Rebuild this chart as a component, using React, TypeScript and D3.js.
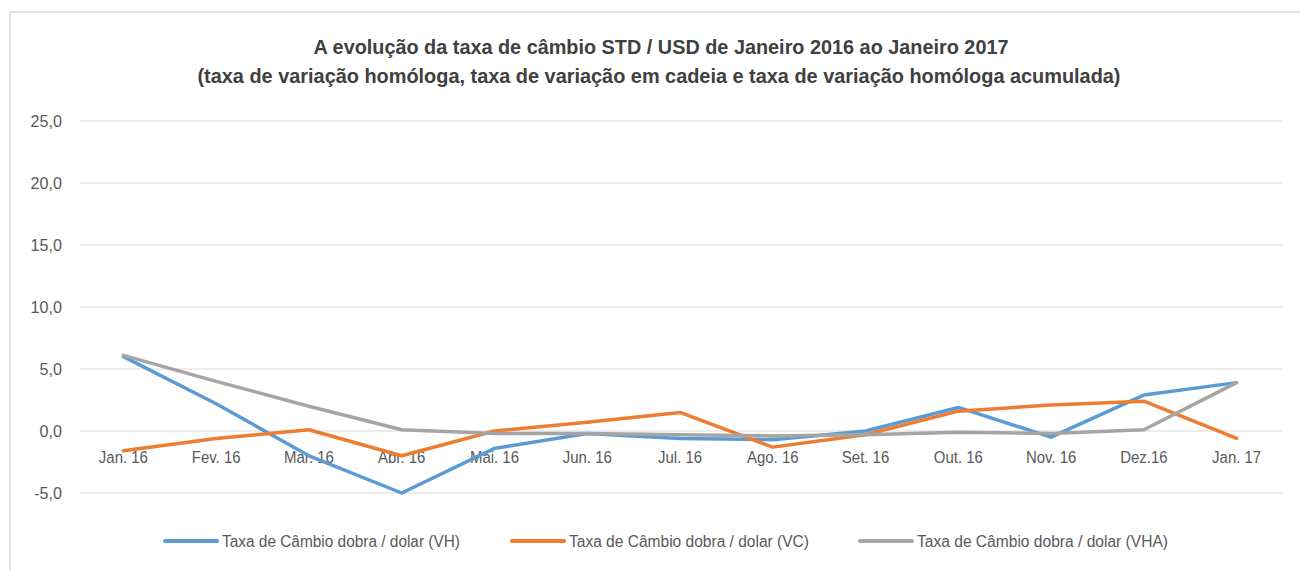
import React from "react";
import * as d3 from "d3";

const categories = ["Jan. 16", "Fev. 16", "Mar. 16", "Abr. 16", "Mai. 16", "Jun. 16", "Jul. 16", "Ago. 16", "Set. 16", "Out. 16", "Nov. 16", "Dez.16", "Jan. 17"];
const vh = [6.0, 2.2, -2.0, -5.0, -1.4, -0.2, -0.6, -0.7, 0.0, 1.9, -0.5, 2.9, 3.9];
const vc = [-1.6, -0.6, 0.1, -2.0, 0.0, 0.7, 1.5, -1.3, -0.3, 1.6, 2.1, 2.4, -0.6];
const vha = [6.1, 4.0, 2.0, 0.1, -0.2, -0.2, -0.3, -0.4, -0.3, -0.1, -0.2, 0.1, 3.9];
const yTicks = [-5, 0, 5, 10, 15, 20, 25];
const seriesNames = ["Taxa de Câmbio dobra / dolar (VH)", "Taxa de Câmbio dobra / dolar (VC)", "Taxa de Câmbio dobra / dolar (VHA)"];
const colors = ["#5b9bd5", "#ed7d31", "#a5a5a5"];

const FONT = "'Liberation Sans Narrow', 'Arial Narrow', 'Liberation Sans', Arial, sans-serif";

function CText(props: { x: number; y: number; sx: number; size: number; anchor?: string; fill: string; weight?: string; children: React.ReactNode }) {
  return (
    <text
      transform={`translate(${props.x},${props.y}) scale(${props.sx},1)`}
      textAnchor={props.anchor || "start"}
      fontSize={props.size}
      fontWeight={props.weight || "normal"}
      fill={props.fill}
    >
      {props.children}
    </text>
  );
}

export default function App() {
  const x = d3.scaleBand<string>().domain(categories).range([77, 1283]);
  const y = d3.scaleLinear().domain([-5, 25]).range([493, 121]);
  const line = d3
    .line<number>()
    .x((_, i) => (x(categories[i]) as number) + x.bandwidth() / 2)
    .y((d) => y(d));
  const series = [vh, vc, vha];
  const legendX = [165, 512, 860];
  const legendW = [238, 240, 251];
  const fmt = (t: number) => d3.format(".1f")(t).replace(".", ",").replace("\u2212", "-");

  return (
    <svg width={1300} height={570} style={{ position: "absolute", left: 0, top: 0 }} fontFamily={FONT}>
      <rect x={0} y={0} width={1300} height={570} fill="#fff" />
      <rect x={10} y={12} width={1310} height={580} fill="none" stroke="#d9d9d9" strokeWidth={1.5} />
      <text x={661} y={54} textAnchor="middle" fontSize={21} fontWeight="bold" fill="#404040" textLength={695} lengthAdjust="spacingAndGlyphs">
        A evolução da taxa de câmbio STD / USD de Janeiro 2016 ao Janeiro 2017
      </text>
      <text x={659} y={83} textAnchor="middle" fontSize={21} fontWeight="bold" fill="#404040" textLength={923} lengthAdjust="spacingAndGlyphs">
        (taxa de variação homóloga, taxa de variação em cadeia e taxa de variação homóloga acumulada)
      </text>
      {yTicks.map((t) => (
        <g key={t}>
          <line x1={80} x2={1283} y1={y(t)} y2={y(t)} stroke="#d9d9d9" strokeWidth={1} />
          <CText x={62} y={y(t) + 6} sx={0.95} size={17} anchor="end" fill="#595959">
            {fmt(t)}
          </CText>
        </g>
      ))}
      {categories.map((c) => (
        <CText key={c} x={(x(c) as number) + x.bandwidth() / 2} y={463} sx={0.88} size={17} anchor="middle" fill="#595959">
          {c}
        </CText>
      ))}
      {series.map((s, i) => (
        <path key={i} d={line(s) as string} fill="none" stroke={colors[i]} strokeWidth={3.5} strokeLinejoin="round" strokeLinecap="round" />
      ))}
      {seriesNames.map((n, i) => (
        <g key={n}>
          <line x1={legendX[i]} x2={legendX[i] + 52} y1={541} y2={541} stroke={colors[i]} strokeWidth={4} strokeLinecap="round" />
          <text x={legendX[i] + 57} y={547} fontSize={16} fill="#595959" textLength={legendW[i]} lengthAdjust="spacingAndGlyphs">
            {n}
          </text>
        </g>
      ))}
    </svg>
  );
}
